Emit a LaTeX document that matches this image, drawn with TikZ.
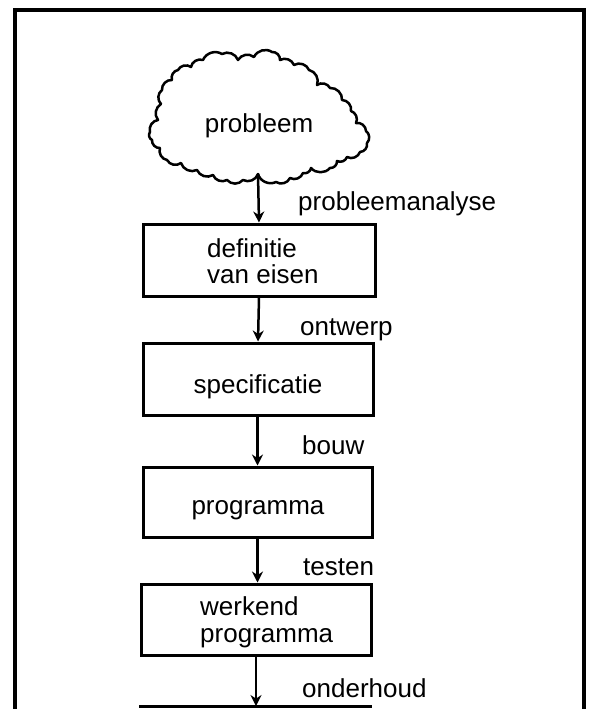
\documentclass[tikz,border=0pt]{standalone}
\usepackage{fontspec}
\setmainfont{Liberation Sans}
\usetikzlibrary{arrows.meta}
\begin{document}
\begin{tikzpicture}[x=1pt,y=-1pt,
  stepbox/.style={draw,line width=3pt,inner sep=0pt},
  txt/.style={font=\fontsize{26}{26.5}\selectfont,inner sep=0pt},
  flow/.style={line width=2.5pt,-{Stealth[length=11pt,width=11pt]}},
  framepen/.style={line width=4pt,line cap=butt,line join=miter}]
\useasboundingbox (0,0) rectangle (591,709);

% open frame round the whole scheme
\draw[framepen] (15,712) -- (15,10) -- (584,10) -- (584,712);

% the problem cloud
\draw[line width=2.5pt,line join=round]
  (150,132) to[bend left=50] (158,120) to[bend left=50] (161,104)
  to[bend left=50] (162,90) to[bend left=50] (172,80) to[bend left=50] (178,70)
  to[bend left=50] (191,67) to[bend left=50] (203,60) to[bend left=50] (222,54)
  to[bend left=50] (238,60) to[bend left=50] (254,57) to[bend left=50] (272,52)
  to[bend left=50] (280,60) to[bend left=50] (294,65) to[bend left=50] (309,70)
  to[bend left=50] (317,85) to[bend left=50] (330,88) to[bend left=50] (342,100)
  to[bend left=50] (351,111) to[bend left=50] (356,123) to[bend left=50] (366,131)
  to[bend left=50] (367,143) to[bend left=50] (360,152) to[bend left=50] (347,157)
  to[bend left=50] (337,161) to[bend left=50] (330,168) to[bend left=50] (311,168)
  to[bend left=50] (303,173) to[bend left=50] (290,178) to[bend left=50] (276,182)
  to[bend left=50] (258,174) to[bend left=50] (243,180) to[bend left=50] (227,180)
  to[bend left=50] (213,175) to[bend left=50] (197,170) to[bend left=50] (181,163)
  to[bend left=50] (167,160) to[bend left=50] (160,148) to[bend left=50] (152,140)
  to[bend left=50] (150,132) -- cycle;
\node[txt,anchor=base] (cloud) at (259,132) {probleem};
\coordinate (cloudfoot) at (258,174);

% process boxes
\node[stepbox,minimum width=232pt,minimum height=72pt] (b1) at (259,260) {};
\node[stepbox,minimum width=230pt,minimum height=72pt] (b2) at (258,379) {};
\node[stepbox,minimum width=229pt,minimum height=70pt] (b3) at (257.5,502) {};
\node[stepbox,minimum width=230pt,minimum height=71pt] (b4) at (256,619.5) {};

% box texts, one node per line
\node[txt,anchor=base west] (t1a) at (207,257) {definitie};
\node[txt,anchor=base west] (t1b) at (207,283) {van eisen};
\node[txt,anchor=base] (t2) at (258,393) {specificatie};
\node[txt,anchor=base] (t3) at (258,514) {programma};
\node[txt,anchor=base west] (t4a) at (200,615) {werkend};
\node[txt,anchor=base west] (t4b) at (200,642) {programma};

% closing bar at the foot
\coordinate (barL) at (139,706);
\coordinate (barR) at (372,706);
\coordinate (barM) at (256,706);
\draw[line width=3pt] (barL) -- (barR);

% connectors
\draw[flow] (cloudfoot) -- (b1.north);
\draw[flow] (b1.south) -- (b2.north);
\draw[flow] (b2.south -| b3.north) -- (b3.north);
\draw[flow] (b3.south) -- (b4.north -| b3.south);
\draw[flow] (b4.south) -- (barM);

% activity labels
\node[txt,anchor=base west] (l1) at (298,210) {probleemanalyse};
\node[txt,anchor=base west] (l2) at (300,335) {ontwerp};
\node[txt,anchor=base west] (l3) at (302,454) {bouw};
\node[txt,anchor=base west] (l4) at (303,575) {testen};
\node[txt,anchor=base west] (l5) at (302,697) {onderhoud};
\end{tikzpicture}
\end{document}
